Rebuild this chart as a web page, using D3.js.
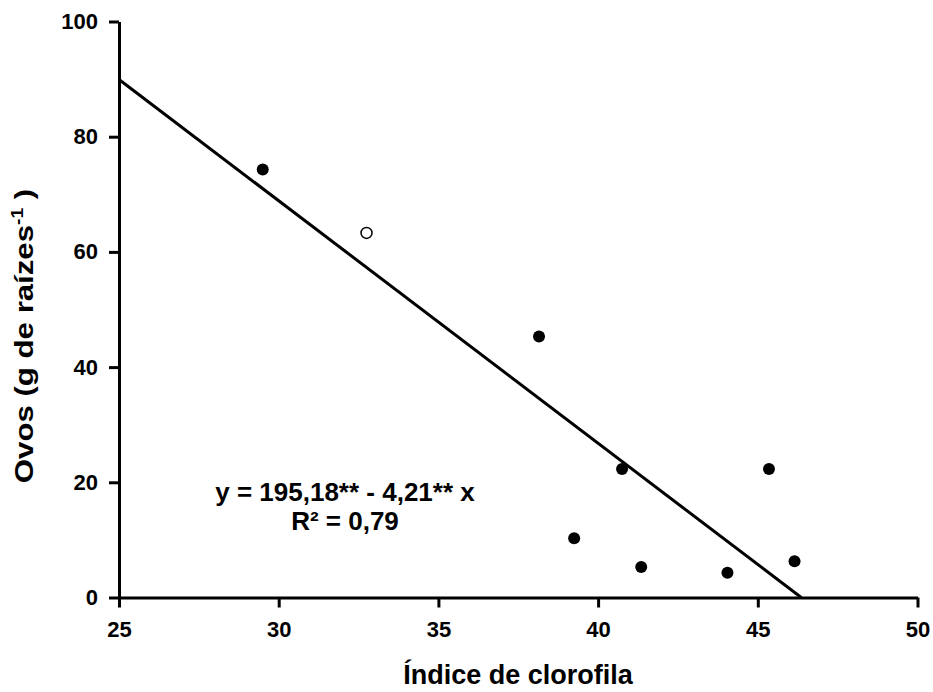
<!DOCTYPE html>
<html>
<head>
<meta charset="utf-8">
<script src="https://d3js.org/d3.v7.min.js"></script>
<style>
  body { margin: 0; background: #fff; }
  text { font-family: "Liberation Sans", Arial, sans-serif; font-weight: bold; }
</style>
</head>
<body>
<div id="chart"></div>
<script>
// data
const clorofila = [29.5, 38.15, 39.25, 40.75, 41.35, 44.05, 45.35, 46.15];
const ovos      = [74.3, 45.3, 10.3, 22.3, 5.3, 4.3, 22.3, 6.3];
const openX = [32.75];
const openY = [63.3];
const xTicks = [25, 30, 35, 40, 45, 50];
const yTicks = [0, 20, 40, 60, 80, 100];
const intercept = 195.18, slope = -4.21;
const eqLines = ["y = 195,18** - 4,21** x", "R\u00b2 = 0,79"];

const W = 933, H = 692;
const margin = { top: 21.5, right: 15.5, bottom: 94.5, left: 119 };
const width = W - margin.left - margin.right;
const height = H - margin.top - margin.bottom;

const svg = d3.select("#chart").append("svg")
    .attr("width", W).attr("height", H)
    .append("g")
    .attr("transform", `translate(${margin.left},${margin.top})`);

const x = d3.scaleLinear().domain([25, 50]).range([0, width]);
const y = d3.scaleLinear().domain([0, 100]).range([height, 0]);

// axes
const xAxis = svg.append("g")
    .attr("transform", `translate(0,${height})`)
    .call(d3.axisBottom(x).tickValues(xTicks).tickSize(10).tickSizeOuter(0).tickPadding(14));
const yAxis = svg.append("g")
    .call(d3.axisLeft(y).tickValues(yTicks).tickSize(10).tickSizeOuter(0).tickPadding(11));

[xAxis, yAxis].forEach(a => {
    a.select(".domain").attr("stroke", "#000").attr("stroke-width", 3);
    a.selectAll(".tick line").attr("stroke", "#000").attr("stroke-width", 3);
    a.selectAll(".tick text").attr("fill", "#000").style("font-size", "22px");
});

// regression line, from x=25 to where it meets y=0
const xEnd = -intercept / slope;
svg.append("path")
    .datum([25, xEnd])
    .attr("d", d3.line().x(d => x(d)).y(d => y(intercept + slope * d)))
    .attr("stroke", "#000")
    .attr("stroke-width", 3)
    .attr("fill", "none");

// points
svg.selectAll("circle.filled")
    .data(clorofila)
    .enter().append("circle")
    .attr("class", "filled")
    .attr("cx", d => x(d))
    .attr("cy", (d, i) => y(ovos[i]))
    .attr("r", 6)
    .attr("fill", "#000");

svg.selectAll("circle.open")
    .data(openX)
    .enter().append("circle")
    .attr("class", "open")
    .attr("cx", d => x(d))
    .attr("cy", (d, i) => y(openY[i]))
    .attr("r", 5.5)
    .attr("fill", "#fff")
    .attr("stroke", "#000")
    .attr("stroke-width", 1.5);

// equation
svg.selectAll("text.eq")
    .data(eqLines)
    .enter().append("text")
    .attr("class", "eq")
    .attr("x", 226)
    .attr("y", (d, i) => 479.5 + i * 28.5)
    .attr("text-anchor", "middle")
    .style("font-size", "26px")
    .text(d => d);

// axis titles
svg.append("text")
    .attr("x", 399)
    .attr("y", height + 86)
    .attr("text-anchor", "middle")
    .style("font-size", "27px")
    .text("Índice de clorofila");

// y title is a bit stretched along its length in the original
const yt = svg.append("text")
    .attr("transform", `translate(-86,${314.5}) rotate(-90) scale(1.2,1)`)
    .attr("text-anchor", "middle")
    .style("font-size", "26px");
yt.append("tspan").text("Ovos (g de raízes");
yt.append("tspan").attr("dy", -10).style("font-size", "16px").text("-1");
yt.append("tspan").attr("dy", 10).text(" )");
</script>
</body>
</html>
